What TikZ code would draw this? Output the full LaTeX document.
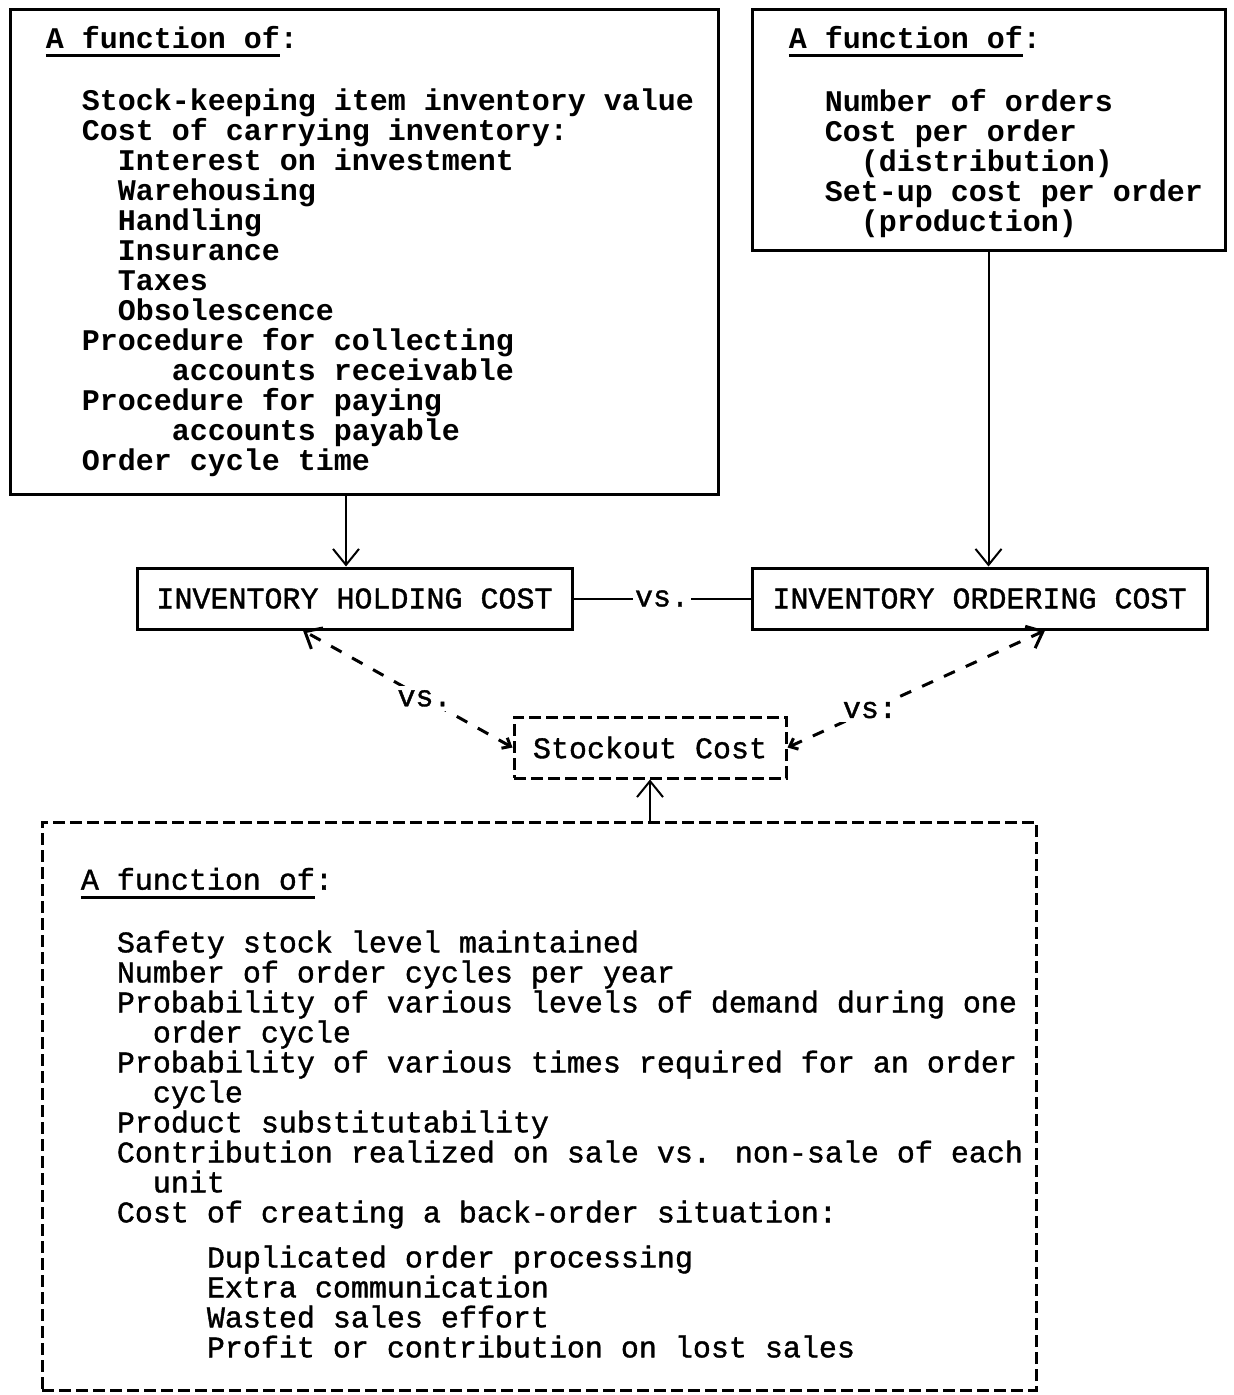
\documentclass[tikz,border=0pt]{standalone}
\usepackage{fontspec}
\setmonofont{Liberation Mono}
\newfontfamily\lowface{Liberation Mono}[FakeBold=1.2]
\usetikzlibrary{arrows.meta, positioning}

\newcommand{\topfont}{\ttfamily\bfseries\fontsize{15}{15}\selectfont}
\newcommand{\lowfont}{\lowface\fontsize{15}{15}\selectfont}
\newcommand{\pad}[1]{\hspace*{#1\fontcharwd\font`0}}
\newsavebox{\headbox}
\newcommand{\fnhead}{\sbox{\headbox}{A function of}\rlap{\rule[-4.5pt]{\wd\headbox}{1.5pt}}\usebox{\headbox}:}

\begin{document}
\begin{tikzpicture}[
    x=0.5pt, y=-0.5pt,
    fnbox/.style={draw, line width=1.5pt},
    dashbox/.style={draw, line width=1.5pt, dash pattern=on 6pt off 2.5pt},
    costbox/.style={draw, line width=1.5pt, minimum height=30.5pt, inner sep=0pt, font=\lowfont},
    listtext/.style={anchor=north west, inner sep=0pt, align=left},
    feed/.style={-{Straight Barb[length=8pt,width=13pt]}, line width=1pt},
    vsline/.style={{Straight Barb[length=3.5pt,width=6pt]}-{Straight Barb[length=7pt,width=12pt]},
        line width=1.5pt, dash pattern=on 6pt off 6pt}
]
\useasboundingbox (0,0) rectangle (1233,1395);

% holding side
\node[fnbox, minimum width=354pt, minimum height=242pt] (holdfn) at (364,252) {};
\node[listtext, font=\topfont] (holdlist) at ([xshift=18.5pt,yshift=-8.5pt]holdfn.north west) {
    \fnhead\\[15pt]
    \pad{2}Stock-keeping item inventory value\\
    \pad{2}Cost of carrying inventory:\\
    \pad{4}Interest on investment\\
    \pad{4}Warehousing\\
    \pad{4}Handling\\
    \pad{4}Insurance\\
    \pad{4}Taxes\\
    \pad{4}Obsolescence\\
    \pad{2}Procedure for collecting\\
    \pad{7}accounts receivable\\
    \pad{2}Procedure for paying\\
    \pad{7}accounts payable\\
    \pad{2}Order cycle time
};

% ordering side
\node[fnbox, minimum width=236.5pt, minimum height=120.5pt] (ordfn) at (988.5,130.5) {};
\node[listtext, font=\topfont] (ordlist) at ([xshift=19pt,yshift=-8.5pt]ordfn.north west) {
    \fnhead\\[15pt]
    \pad{2}Number of orders\\
    \pad{2}Cost per order\\
    \pad{4}(distribution)\\
    \pad{2}Set-up cost per order\\
    \pad{4}(production)
};

% the three costs
\node[costbox, minimum width=217.5pt] (hold) at (354.5,598.5) {INVENTORY HOLDING COST};
\node[costbox, minimum width=227.5pt] (order) at (979.5,598.5) {INVENTORY ORDERING COST};
\node[costbox, dashbox, minimum width=136pt] (stock) at (650,747.5) {Stockout Cost};
\node[inner sep=1pt, font=\lowfont] (vsmid) at (662,598.5) {vs.};

% stockout side
\node[dashbox, minimum width=497pt, minimum height=284pt] (stockfn) at (539,1106) {};
\node[listtext, font=\lowfont] (stocklist) at ([xshift=20pt,yshift=-23.5pt]stockfn.north west) {
    \fnhead\\[15pt]
    \pad{2}Safety stock level maintained\\
    \pad{2}Number of order cycles per year\\
    \pad{2}Probability of various levels of demand during one\\
    \pad{4}order cycle\\
    \pad{2}Probability of various times required for an order\\
    \pad{4}cycle\\
    \pad{2}Product substitutability\\
    \pad{2}Contribution realized on sale vs. non-sale of each\\
    \pad{4}unit\\
    \pad{2}Cost of creating a back-order situation:\\[7.5pt]
    \pad{7}Duplicated order processing\\
    \pad{7}Extra communication\\
    \pad{7}Wasted sales effort\\
    \pad{7}Profit or contribution on lost sales
};

% connectors
\coordinate (holdin) at ([xshift=-9pt]holdfn.south);
\draw[feed] (holdin) -- (holdin |- hold.north);
\draw[feed] (ordfn.south) -- (ordfn.south |- order.north);
\draw[line width=1pt] (hold.east) -- (vsmid);
\draw[line width=1pt] (vsmid) -- (order.west);
\draw[vsline] (stock.west) -- node[pos=0.42, fill=white, inner sep=2pt, font=\lowfont] (vsleft) {vs.} ([xshift=-25.75pt]hold.south);
\draw[vsline] (stock.east) -- node[pos=0.32, fill=white, inner sep=2pt, font=\lowfont] (vsright) {vs:} ([xshift=32.75pt]order.south);
\draw[feed] (stock.south |- stockfn.north) -- (stock.south);
\end{tikzpicture}
\end{document}
